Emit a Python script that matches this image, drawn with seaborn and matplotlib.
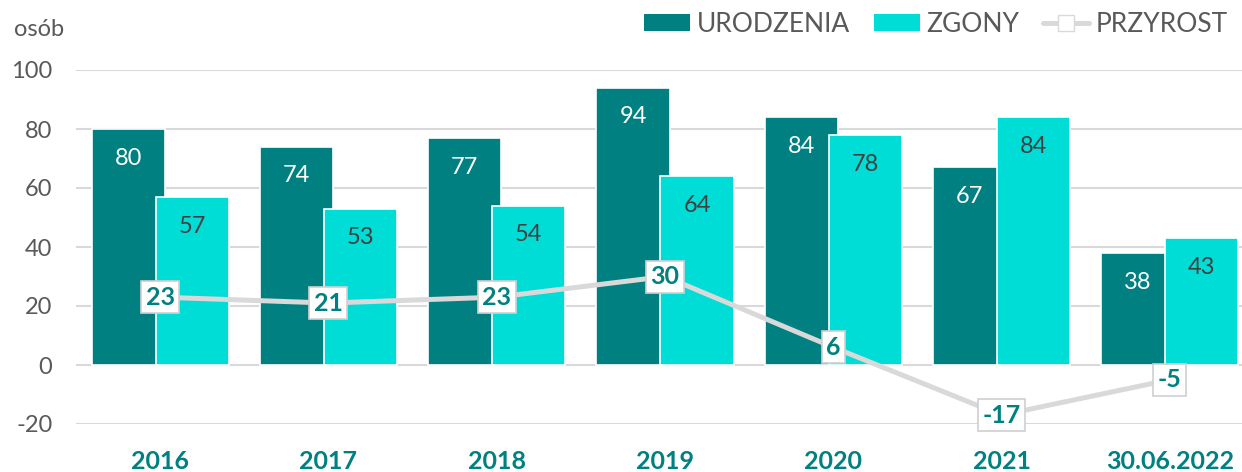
import numpy as np
import pandas as pd
import matplotlib
matplotlib.use("Agg")
import matplotlib.pyplot as plt
from matplotlib.patches import Patch
from matplotlib.lines import Line2D
import seaborn as sns

categories = ["2016", "2017", "2018", "2019", "2020", "2021", "30.06.2022"]
urodzenia = [80, 74, 77, 94, 84, 67, 38]
zgony = [57, 53, 54, 64, 78, 84, 43]
przyrost = [23, 21, 23, 30, 6, -17, -5]
yticks = [-20, 0, 20, 40, 60, 80, 100]

TEAL = "#008080"
CYAN = "#00DCD6"
GRAYTXT = "#595959"
LINEC = "#D9D9D9"

sns.set_theme(style="white")
plt.rcParams["font.family"] = ["Lato", "DejaVu Sans"]

df = pd.DataFrame({
    "kat": categories * 2,
    "val": urodzenia + zgony,
    "seria": ["URODZENIA"] * len(categories) + ["ZGONY"] * len(categories),
})

fig = plt.figure(figsize=(12.42, 4.72), dpi=100)
ax = fig.add_axes([76 / 1242, 48 / 472, 1 - 76 / 1242, 354 / 472])

sns.barplot(data=df, x="kat", y="val", hue="seria", order=categories,
            hue_order=["URODZENIA", "ZGONY"], palette=[TEAL, CYAN],
            width=0.76, dodge=True, ax=ax, legend=False,
            edgecolor="white", linewidth=1.2, saturation=1)

bw = 0.435
for p in ax.patches:
    c = p.get_x() + p.get_width() / 2
    p.set_x(c - bw / 2)
    p.set_width(bw)

# value labels
n = len(categories)
for i, p in enumerate(ax.patches[:2 * n]):
    val = p.get_height()
    col = "white" if i < n else "#404040"
    ax.annotate(f"{val:.0f}", (p.get_x() + p.get_width() / 2, val),
                xytext=(0, -21), textcoords="offset points",
                ha="center", va="center", fontsize=17, color=col, zorder=5)

sns.pointplot(x=categories, y=przyrost, order=categories, color=LINEC,
              markers="s", linestyles="-", ax=ax,
              markersize=8, linewidth=3.6)
for line in ax.lines:
    line.set_markerfacecolor("white")
    line.set_markeredgecolor(LINEC)
    line.set_zorder(6)

for i, v in enumerate(przyrost):
    ax.text(i, v, f"{v}", ha="center", va="center", fontsize=18,
            fontweight="bold", color=TEAL, zorder=7,
            bbox=dict(boxstyle="square,pad=0.18", fc="white", ec="#D0D0D0", lw=1.2))

ax.set_ylim(-20, 100)
ax.set_xlim(-0.5, 6.5 - 12 / 168)
ax.set_yticks(yticks)
ax.set_yticklabels([str(t) for t in yticks])
ax.yaxis.grid(True, color=LINEC, lw=1.5)
ax.set_axisbelow(True)
for s in ax.spines.values():
    s.set_visible(False)
ax.tick_params(axis="y", length=0, labelsize=17, labelcolor=GRAYTXT, pad=17)
ax.tick_params(axis="x", length=0, labelsize=18, labelcolor=TEAL, pad=19)
for lbl in ax.get_xticklabels():
    lbl.set_fontweight("bold")
ax.set_xlabel("")
ax.set_ylabel("")

fig.text(14 / 1242, 1 - 30 / 472, "osób", fontsize=17, color=GRAYTXT,
         ha="left", va="center")

handles = [
    Patch(facecolor=TEAL, edgecolor="none", label="URODZENIA"),
    Patch(facecolor=CYAN, edgecolor="none", label="ZGONY"),
    Line2D([0], [0], color=LINEC, lw=3.6, marker="s", markersize=12,
           markerfacecolor="white", markeredgecolor=LINEC, label="PRZYROST"),
]
fig.legend(handles=handles, loc="upper right", bbox_to_anchor=(1.008, 1.025),
           ncol=3, frameon=False, fontsize=19, labelcolor=GRAYTXT,
           handlelength=1.75, handleheight=0.6, handletextpad=0.25,
           columnspacing=0.9)

fig.savefig("out.png", dpi=100, facecolor="white")
